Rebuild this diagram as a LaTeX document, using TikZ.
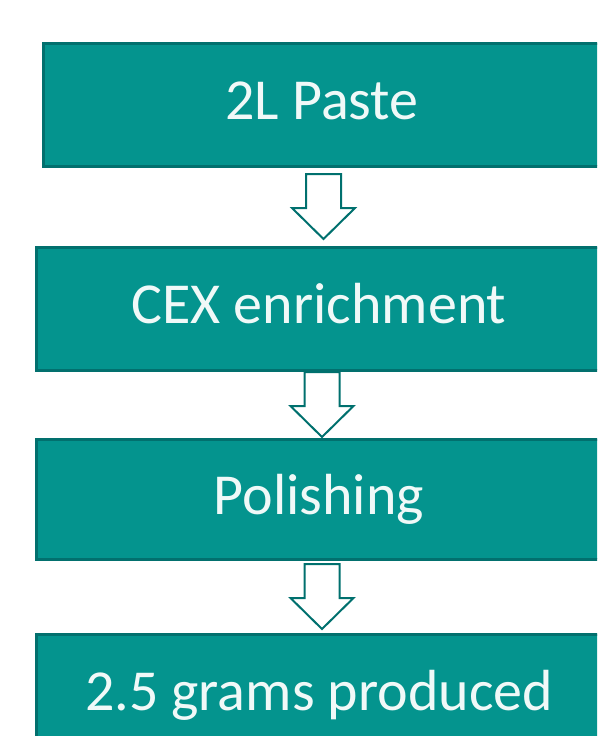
\documentclass[tikz,border=0pt]{standalone}
\usepackage{fontspec}
\setmainfont{Carlito}
\usetikzlibrary{calc}
\definecolor{stepfill}{RGB}{4,148,142}
\definecolor{stepline}{RGB}{2,112,110}
\definecolor{arrowline}{RGB}{0,112,110}
\tikzset{
  stepbox/.style={draw=stepline, line width=3pt, fill=stepfill, text=white!94!stepfill,
    inner sep=0pt, font=\fontsize{58}{60}\selectfont, text height=40pt, text depth=10pt},
  hollowarrow/.style={draw=arrowline, line width=2pt, fill=white, line join=miter},
}

\begin{document}
\begin{tikzpicture}[x=1pt,y=-1pt]
  \useasboundingbox (0,0) rectangle (597,736);
  \clip (0,0) rectangle (597,736);
  % process steps
  \node[stepbox, minimum width=558pt, minimum height=123pt] (paste) at (322,104.5) {2L Paste};
  \node[stepbox, minimum width=566pt, minimum height=123pt] (cex) at (319,308.5) {CEX enrichment};
  \node[stepbox, minimum width=566pt, minimum height=120pt] (polish) at (319,499) {Polishing};
  \node[stepbox, minimum width=566pt, minimum height=122pt] (grams) at (319,695) {2.5 grams produced};
  % hollow block arrows between the steps
  \foreach \a/\b in {paste/cex, cex/polish, polish/grams} {
    \coordinate (m) at ($(\a.south)!0.5!(\b.north)$);
    \draw[hollowarrow] ($(m)+(3,32.5)$) -- ++(31.5,-31) -- ++(-14,0) -- ++(0,-34)
      -- ++(-35,0) -- ++(0,34) -- ++(-14,0) -- cycle;
  }
\end{tikzpicture}
\end{document}
